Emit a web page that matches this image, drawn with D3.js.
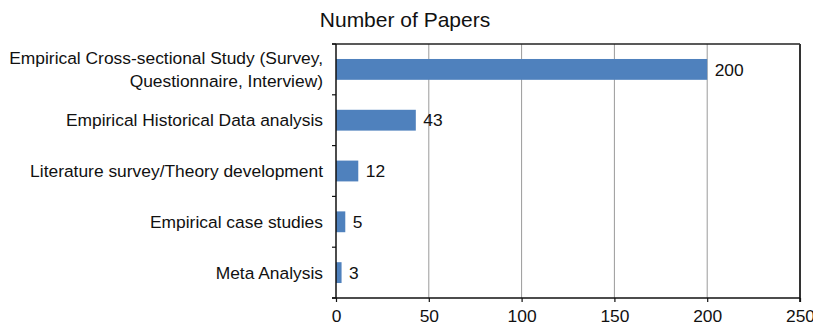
<!DOCTYPE html>
<html>
<head>
<meta charset="utf-8">
<script src="https://cdn.jsdelivr.net/npm/d3@7"></script>
<style>
  html, body { margin: 0; padding: 0; background: #fff; }
  svg { display: block; font-family: "Liberation Sans", Arial, Helvetica, sans-serif; }
</style>
</head>
<body>
<svg id="chart" width="813" height="326"></svg>
<script>
// Publication counts per research method
const categories = [
  ["Empirical Cross-sectional Study (Survey,", "Questionnaire, Interview)"],
  ["Empirical Historical Data analysis"],
  ["Literature survey/Theory development"],
  ["Empirical case studies"],
  ["Meta Analysis"]
];
const paperCounts = [200, 43, 12, 5, 3];
const xTicks = [0, 50, 100, 150, 200, 250];
const chartTitle = "Number of Papers";

const svg = d3.select("#chart");
const margin = { top: 44, right: 13, bottom: 28, left: 336 };
const W = 813, H = 326;
const innerW = W - margin.left - margin.right;
const innerH = H - margin.top - margin.bottom;
const fs = 17.4;

const g = svg.append("g").attr("transform", `translate(${margin.left},${margin.top})`);

const x = d3.scaleLinear().domain([0, 250]).range([0, innerW]);
const y = d3.scaleBand().domain(d3.range(categories.length)).range([0, innerH]).paddingInner(0.59).paddingOuter(0.295);
const yBands = d3.scaleBand().domain(d3.range(categories.length)).range([0, innerH]);

// vertical gridlines
g.append("g").selectAll("line")
  .data(xTicks.filter(t => t > 0 && t < 250))
  .join("line")
  .attr("x1", d => x(d)).attr("x2", d => x(d))
  .attr("y1", 0).attr("y2", innerH)
  .attr("stroke", "#9a9a9a").attr("stroke-width", 1);

// top and right frame
g.append("line").attr("x1", -4).attr("x2", innerW).attr("y1", 0).attr("y2", 0)
  .attr("stroke", "#222").attr("stroke-width", 1.3);
g.append("line").attr("x1", innerW).attr("x2", innerW).attr("y1", 0).attr("y2", innerH + 4)
  .attr("stroke", "#333").attr("stroke-width", 2);

// bars
g.append("g").selectAll("rect")
  .data(paperCounts)
  .join("rect")
  .attr("x", x(0))
  .attr("y", (d, i) => y(i))
  .attr("width", d => x(d) - x(0))
  .attr("height", y.bandwidth())
  .attr("fill", "#4f81bd");

// value labels
g.append("g").selectAll("text")
  .data(paperCounts)
  .join("text")
  .attr("x", d => x(d) + 7.5)
  .attr("y", (d, i) => y(i) + y.bandwidth() / 2)
  .attr("dy", "0.36em")
  .attr("font-size", fs)
  .attr("fill", "#111")
  .text(d => d);

// x axis
const xAxis = g.append("g").attr("transform", `translate(0,${innerH})`)
  .call(d3.axisBottom(x).tickValues(xTicks).tickSize(4).tickSizeOuter(0).tickPadding(6));
xAxis.select(".domain").attr("stroke", "#111").attr("stroke-width", 1.5).attr("d", `M-4,0H${innerW}`);
xAxis.selectAll(".tick line").attr("stroke", "#111").attr("stroke-width", 1.2);
xAxis.selectAll(".tick text").attr("font-size", fs).attr("fill", "#111").attr("dy", "0.83em");

// y axis: line with ticks at band boundaries
const yAxis = g.append("g");
yAxis.append("line").attr("x1", 0).attr("x2", 0).attr("y1", 0).attr("y2", innerH)
  .attr("stroke", "#111").attr("stroke-width", 1.5);
yAxis.selectAll("line.tk")
  .data(d3.range(categories.length + 1))
  .join("line").attr("class", "tk")
  .attr("x1", -4).attr("x2", 0)
  .attr("y1", i => i * yBands.step()).attr("y2", i => i * yBands.step())
  .attr("stroke", "#111").attr("stroke-width", 1.2);

// category labels
const labels = yAxis.selectAll("text.cat")
  .data(categories)
  .join("text").attr("class", "cat")
  .attr("text-anchor", "end")
  .attr("font-size", fs)
  .attr("fill", "#111")
  .attr("x", -13)
  .attr("y", (d, i) => yBands(i) + yBands.bandwidth() / 2);
labels.each(function(lines) {
  const t = d3.select(this);
  const lh = 23;
  const start = -(lines.length - 1) * lh / 2;
  lines.forEach((ln, k) => {
    t.append("tspan")
      .attr("x", -13)
      .attr("dy", k === 0 ? (start + 6) : lh)
      .text(ln);
  });
});

// title
svg.append("text")
  .attr("x", 405).attr("y", 27)
  .attr("text-anchor", "middle")
  .attr("font-size", 21)
  .attr("fill", "#111")
  .text(chartTitle);
</script>
</body>
</html>
